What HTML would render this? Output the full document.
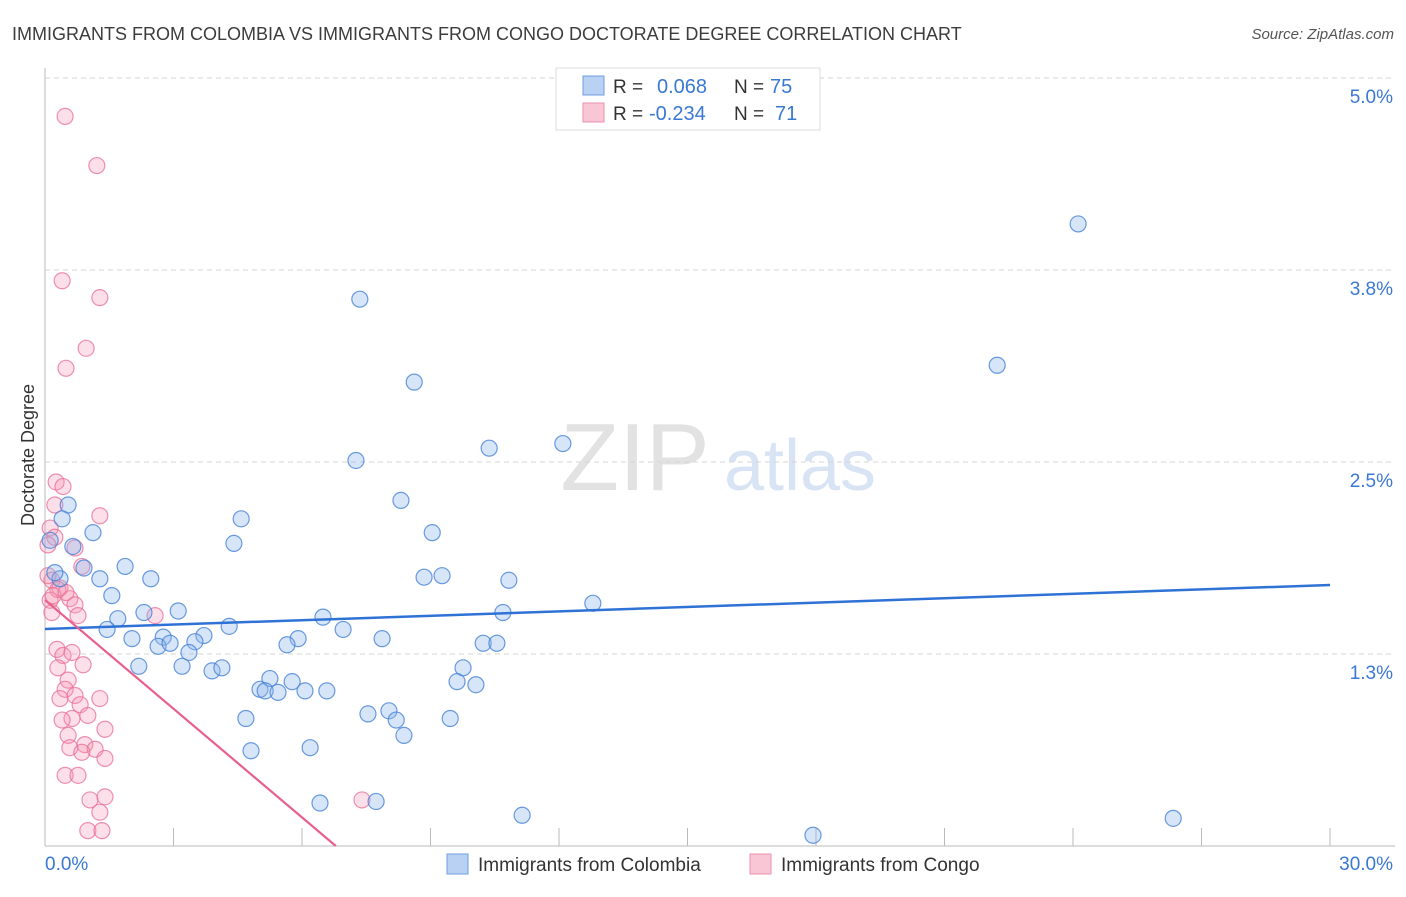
<!DOCTYPE html>
<html><head><meta charset="utf-8"><style>
body{margin:0;background:#fff;font-family:"Liberation Sans",sans-serif;}
svg text{font-family:"Liberation Sans",sans-serif;}
</style></head><body>
<svg id="c" width="1406" height="892">
<text x="12" y="40" font-size="18" fill="#3c3c3c">IMMIGRANTS FROM COLOMBIA VS IMMIGRANTS FROM CONGO DOCTORATE DEGREE CORRELATION CHART</text>
<text x="1394" y="39" font-size="15" fill="#555" font-style="italic" text-anchor="end">Source: ZipAtlas.com</text>
<text transform="translate(34,455) rotate(-90)" font-size="18" fill="#333" text-anchor="middle">Doctorate Degree</text>
<g><text x="635" y="490" font-size="96" fill="#e2e2e2" font-family="Liberation Serif" text-anchor="middle">ZIP</text><text x="800" y="490" font-size="72" fill="#d8e4f4" text-anchor="middle">atlas</text></g>
<g id="grid"></g><g id="axes"></g><g id="pts"></g><g id="trend"></g>
<g>
<rect x="556" y="68" width="264" height="62" fill="#fff" stroke="#ddd"/>
<rect x="583" y="76" width="21" height="19" fill="#b9d1f3" stroke="#6f9de0"/>
<rect x="583" y="103" width="21" height="19" fill="#f9c6d6" stroke="#ec92ae"/>
<text x="613" y="93" font-size="19" fill="#333">R =</text><text x="657" y="93" font-size="20" fill="#3a78d4">0.068</text>
<text x="734" y="93" font-size="19" fill="#333">N =</text><text x="770" y="93" font-size="20" fill="#3a78d4">75</text>
<text x="613" y="120" font-size="19" fill="#333">R =</text><text x="649" y="120" font-size="20" fill="#3a78d4">-0.234</text>
<text x="734" y="120" font-size="19" fill="#333">N =</text><text x="775" y="120" font-size="20" fill="#3a78d4">71</text>
</g>
<g>
<rect x="447" y="854" width="21" height="20" fill="#b9d1f3" stroke="#6f9de0"/>
<text x="478" y="871" font-size="19" fill="#333">Immigrants from Colombia</text>
<rect x="750" y="854" width="21" height="20" fill="#f9c6d6" stroke="#ec92ae"/>
<text x="781" y="871" font-size="19" fill="#333">Immigrants from Congo</text>
</g>
</svg>
<script>
const yTicks=[1.25,2.5,3.75,5.0];
const yTickLabels=["1.3%","2.5%","3.8%","5.0%"];
const xLabels=["0.0%","30.0%"];
const colX=[24.12,7.35,22.23,8.62,10.37,12.09,7.26,8.31,0.54,0.40,4.58,1.12,9.04,4.41,0.65,1.87,0.91,1.28,2.47,8.85,9.27,10.83,1.56,12.79,2.31,3.11,10.69,6.49,1.70,4.30,1.45,6.96,2.03,2.76,3.71,3.50,5.91,7.87,2.64,2.92,5.65,10.23,10.55,3.36,2.19,3.20,9.76,3.90,4.13,5.25,5.77,9.62,10.06,5.02,5.14,5.44,6.07,6.58,8.03,7.54,8.20,4.69,9.46,8.38,4.81,6.19,6.42,7.73,11.14,17.93,26.34,0.35,0.12,0.23];
const colY=[4.05,3.56,3.13,3.02,2.59,2.62,2.51,2.25,2.22,2.13,2.13,2.04,2.04,1.97,1.95,1.82,1.81,1.74,1.74,1.75,1.76,1.73,1.63,1.58,1.52,1.53,1.52,1.49,1.48,1.43,1.41,1.41,1.35,1.36,1.37,1.33,1.35,1.35,1.30,1.32,1.31,1.32,1.32,1.26,1.17,1.17,1.16,1.14,1.16,1.09,1.07,1.07,1.05,1.02,1.01,1.00,1.01,1.01,0.88,0.86,0.82,0.83,0.83,0.72,0.62,0.64,0.28,0.29,0.20,0.07,0.18,1.74,1.99,1.78];
const conX=[0.47,1.21,0.40,1.28,0.96,0.49,0.26,0.42,1.28,0.23,0.12,0.23,0.70,0.07,0.86,0.16,0.35,0.58,0.12,0.70,0.16,2.57,0.77,0.28,0.42,0.63,0.89,0.30,0.54,1.28,0.47,0.70,0.35,0.82,1.00,0.63,0.40,1.40,0.54,0.93,1.17,0.58,0.86,1.40,0.47,0.77,1.05,1.40,1.28,1.00,1.33,7.40,0.30,0.19,0.07,0.49];
const conY=[4.75,4.43,3.68,3.57,3.24,3.11,2.37,2.34,2.15,2.22,2.07,2.01,1.94,1.96,1.82,1.73,1.68,1.61,1.60,1.57,1.52,1.50,1.50,1.28,1.24,1.26,1.18,1.16,1.08,0.96,1.02,0.98,0.96,0.92,0.85,0.83,0.82,0.76,0.72,0.66,0.63,0.64,0.61,0.57,0.46,0.46,0.30,0.32,0.22,0.10,0.10,0.30,1.67,1.63,1.76,1.65];
const colTrend=[1.413,1.699];
const conTrend=[1.601,0,6.79];
const X0=45,X1=1330,Y0=846,Y1=78;
const sx=v=>X0+(v/30)*(X1-X0);
const sy=v=>Y0-(v/5)*(Y0-Y1);
const NS="http://www.w3.org/2000/svg";
function mk(t,a,p){const e=document.createElementNS(NS,t);for(const k in a)e.setAttribute(k,a[k]);p.appendChild(e);return e;}
const grid=document.getElementById('grid'),axes=document.getElementById('axes'),pts=document.getElementById('pts'),tr=document.getElementById('trend');
yTicks.forEach((t,i)=>{
 const l=mk('line',{x1:X0,x2:1395,y1:sy(t),y2:sy(t),stroke:'#d5d5d5','stroke-dasharray':'5,4'},grid);
 
 
 const tx=mk('text',{x:1393,y:sy(t)+25,'font-size':19,fill:'#3a78d4','text-anchor':'end'},grid);
 tx.textContent=yTickLabels[i];
 
 
});
const ya=mk('line',{x1:X0,x2:X0,y1:68,y2:Y0,stroke:'#bbb'},axes);


const xa=mk('line',{x1:X0,x2:1395,y1:Y0,y2:Y0,stroke:'#bbb'},axes);


for(let i=1;i<=10;i++){
 const tk=mk('line',{x1:sx(i*3),x2:sx(i*3),y1:Y0,y2:828,stroke:'#bbb'},axes);
 
 
}
const xl0=mk('text',{x:45,y:870,'font-size':19,fill:'#3a78d4'},axes);xl0.textContent=xLabels[0];


const xl1=mk('text',{x:1393,y:870,'font-size':19,fill:'#3a78d4','text-anchor':'end'},axes);xl1.textContent=xLabels[1];


conX.forEach((x,i)=>{
 const c=mk('circle',{cx:sx(x),cy:sy(conY[i]),r:8,fill:'rgba(244,150,180,0.3)',stroke:'rgba(232,110,150,0.75)','stroke-width':1.2},pts);
 
 
});
colX.forEach((x,i)=>{
 const c=mk('circle',{cx:sx(x),cy:sy(colY[i]),r:8,fill:'rgba(140,180,235,0.35)',stroke:'rgba(70,130,215,0.8)','stroke-width':1.2},pts);
 
 
});
const tb=mk('line',{x1:sx(0),y1:sy(colTrend[0]),x2:sx(30),y2:sy(colTrend[1]),stroke:'#2f72d6','stroke-width':2.5},tr);


const tp=mk('line',{x1:sx(0),y1:sy(conTrend[0]),x2:sx(conTrend[2]),y2:sy(conTrend[1]),stroke:'#e8608c','stroke-width':2.2},tr);


</script>
</body></html>
